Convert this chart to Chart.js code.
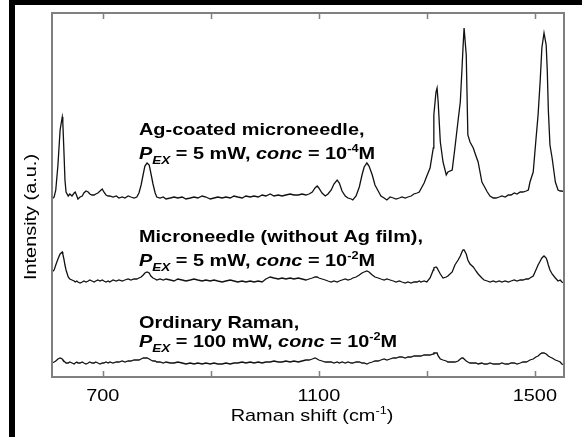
<!DOCTYPE html>
<html><head><meta charset="utf-8">
<script src="https://cdn.jsdelivr.net/npm/chart.js@4/dist/chart.umd.min.js"></script>
<style>
html,body{margin:0;padding:0;background:#fff;}
#wrap{position:relative;width:582px;height:437px;overflow:hidden;}
canvas{position:absolute;left:0;top:0;}
.bar{position:absolute;background:#000;}
</style></head>
<body><div id="wrap"><canvas id="c" width="582" height="437"></canvas>
<div class="bar" style="left:9px;top:0;width:573px;height:5px"></div>
<div class="bar" style="left:9px;top:0;width:6px;height:437px"></div>
</div>
<script>
// Raman shift (cm^-1)
const shift = [
606,610,613,617,621,625,626,628,630,632,
636,639,643,647,649,652,654,658,662,665,
669,673,676,680,684,687,691,695,699,702,
706,710,713,719,725,730,736,741,747,752,
758,763,767,771,775,778,782,786,789,793,
797,800,806,812,817,825,832,839,847,854,
862,869,876,884,891,899,906,913,921,928,
936,943,950,958,965,973,980,988,995,1002,
1010,1017,1025,1032,1039,1047,1054,1062,1069,1076,
1082,1088,1093,1097,1100,1106,1112,1117,1123,1128,
1134,1138,1143,1149,1154,1160,1163,1169,1175,1180,
1184,1189,1193,1199,1204,1210,1215,1221,1226,1232,
1238,1243,1249,1254,1260,1265,1271,1276,1282,1286,
1289,1295,1300,1306,1312,1313,1317,1319,1321,1325,
1330,1336,1339,1347,1352,1358,1362,1365,1367,1369,
1373,1376,1380,1386,1391,1395,1402,1406,1412,1417,
1423,1428,1434,1439,1445,1451,1456,1462,1467,1473,
1478,1484,1488,1491,1497,1502,1506,1510,1513,1517,
1521,1523,1525,1528,1532,1538,1543,1547,1550,1554];
// Ag-coated microneedle (offset trace)
const agCoated = [
178,180,187,212,247,260,255,227,197,185,
181,183,181,184,185,181,178,180,181,184,
186,185,183,182,182,183,184,186,188,185,
182,181,181,180,181,179,180,179,181,180,
179,180,184,192,203,211,214,212,204,193,
184,180,179,180,178,179,180,179,180,178,
179,180,179,181,180,178,179,180,179,180,
179,181,180,179,181,180,181,180,182,181,
183,181,182,181,182,183,182,182,183,182,
183,185,189,191,189,184,181,183,187,193,
197,194,186,181,179,178,177,181,190,202,
210,214,211,202,192,186,181,179,177,180,
179,178,179,180,179,180,181,183,184,185,
188,194,201,209,229,262,285,289,275,235,
215,202,205,207,229,257,275,307,329,349,
322,242,235,229,221,215,195,191,185,181,
179,179,180,181,180,182,182,184,183,185,
185,186,187,195,205,237,262,297,329,344,
332,307,267,232,219,195,187,186,186,185];
// Microneedle without Ag film (offset trace)
const noAgFilm = [
105,107,112,118,123,125,123,118,112,107,
100,98,97,96,95,96,95,94,95,96,
95,96,97,96,95,96,97,96,97,96,
95,96,95,97,96,97,96,97,98,97,
98,98,99,100,102,104,105,104,101,99,
98,97,98,97,98,97,96,98,97,96,
97,98,97,96,97,96,97,96,95,96,
97,96,95,96,95,96,95,96,95,98,
100,99,98,99,98,99,98,99,98,97,
98,99,100,100,99,98,97,96,95,96,
95,96,97,98,97,98,99,100,102,104,
105,106,105,102,100,99,98,97,98,97,
96,95,96,95,94,95,94,95,95,96,
95,96,95,99,107,109,110,109,107,103,
99,100,101,105,112,117,121,125,127,127,
123,117,113,110,106,103,99,97,96,95,
96,95,96,95,96,95,96,97,96,97,
97,98,98,99,101,107,112,116,119,121,
119,116,112,107,103,99,96,97,95,94];
// Ordinary Raman
const ordinary = [
14,15,16,18,19,18,17,16,15,14,
14,15,14,13,14,15,14,14,15,14,
13,14,15,14,14,15,14,13,14,14,
15,14,15,14,15,15,16,15,16,16,
17,17,17,18,19,19,19,18,17,16,
16,15,15,14,15,14,14,15,14,13,
14,13,14,13,14,13,14,13,13,14,
13,14,14,15,14,15,14,15,14,15,
15,16,15,15,16,15,16,15,16,17,
17,18,19,18,17,16,15,15,15,14,
15,14,15,14,15,14,14,15,15,14,
14,13,14,15,16,16,17,18,17,18,
19,19,20,20,19,20,20,21,21,21,
21,22,22,22,23,24,24,24,21,18,
17,16,15,15,15,16,18,19,19,18,
16,15,14,14,14,13,14,13,13,14,
13,13,13,14,13,13,14,14,13,14,
15,15,16,17,18,20,21,23,24,24,
23,22,21,20,19,17,16,15,13,12];
const tickValues = [700, 900, 1100, 1300, 1500];
const tickLabels = ['700', '', '1100', '', '1500'];
const xTitle = 'Raman shift (cm';
const xTitleSup = '-1';
const yTitle = 'Intensity (a.u.)';
const annotations = [
  {lines: [[{t:'Ag-coated microneedle,'}],
    [{t:'P',i:1},{t:'EX',i:1,sub:1},{t:' = 5 mW, '},{t:'conc',i:1},{t:' = 10'},{t:'-4',sup:1},{t:'M'}]], top: 135, gap: 24},
  {lines: [[{t:'Microneedle (without Ag film),'}],
    [{t:'P',i:1},{t:'EX',i:1,sub:1},{t:' = 5 mW, '},{t:'conc',i:1},{t:' = 10'},{t:'-2',sup:1},{t:'M'}]], top: 242, gap: 24},
  {lines: [[{t:'Ordinary Raman,'}],
    [{t:'P',i:1},{t:'EX',i:1,sub:1},{t:' = 100 mW, '},{t:'conc',i:1},{t:' = 10'},{t:'-2',sup:1},{t:'M'}]], top: 328, gap: 19}
];

for (const a of [agCoated, noAgFilm, ordinary]) if (a.length !== shift.length) throw new Error('len ' + a.length + ' vs ' + shift.length);

const FONT = '"Liberation Sans", Arial, sans-serif';
const SX = 1.17;
function drawRich(ctx, x, y, segs, size, bold, sx) {
  ctx.save();
  ctx.translate(x, y);
  ctx.scale(sx, 1);
  let cx = 0;
  for (const s of segs) {
    let fs = size, dy = 0;
    if (s.sub) { fs = size * 0.68; dy = size * 0.28; }
    if (s.sup) { fs = size * 0.64; dy = -size * 0.42; }
    ctx.font = (s.i ? 'italic ' : '') + (bold ? 'bold ' : '') + fs + 'px ' + FONT;
    ctx.fillText(s.t, cx, dy);
    cx += ctx.measureText(s.t).width;
  }
  ctx.restore();
  return cx * sx;
}
function richWidth(ctx, segs, size, bold, sx) {
  let cx = 0;
  for (const s of segs) {
    let fs = size;
    if (s.sub) fs = size * 0.68;
    if (s.sup) fs = size * 0.64;
    ctx.font = (s.i ? 'italic ' : '') + (bold ? 'bold ' : '') + fs + 'px ' + FONT;
    cx += ctx.measureText(s.t).width;
  }
  return cx * sx;
}

const decor = {
  id: 'decor',
  afterDraw(chart) {
    const ctx = chart.ctx, ca = chart.chartArea, xs = chart.scales.x;
    ctx.save();
    ctx.strokeStyle = '#808080';
    ctx.lineWidth = 2;
    ctx.strokeRect(ca.left, ca.top, ca.right - ca.left, ca.bottom - ca.top);
    ctx.lineWidth = 1.5;
    ctx.beginPath();
    tickValues.forEach(v => {
      const px = Math.round(xs.getPixelForValue(v)) + 0.5;
      ctx.moveTo(px, ca.bottom); ctx.lineTo(px, ca.bottom - 6);
      ctx.moveTo(px, ca.top); ctx.lineTo(px, ca.top + 6);
    });
    ctx.stroke();
    ctx.fillStyle = '#000';
    ctx.textBaseline = 'alphabetic';
    tickValues.forEach((v, k) => {
      if (!tickLabels[k]) return;
      const segs = [{t: tickLabels[k]}];
      const w = richWidth(ctx, segs, 17, false, SX);
      drawRich(ctx, xs.getPixelForValue(v) - w / 2, 401, segs, 17, false, SX);
    });
    const tSegs = [{t: xTitle}, {t: xTitleSup, sup: 1}, {t: ')'}];
    const tw = richWidth(ctx, tSegs, 17, false, SX);
    drawRich(ctx, (ca.left + ca.right) / 2 - tw / 2 + 4, 421, tSegs, 17, false, SX);
    // y title
    ctx.save();
    ctx.translate(36, (ca.top + ca.bottom) / 2 + 22);
    ctx.rotate(-Math.PI / 2);
    ctx.scale(SX, 1);
    ctx.font = '17px ' + FONT;
    ctx.textAlign = 'center';
    ctx.fillText(yTitle, 0, 0);
    ctx.restore();
    // annotations
    annotations.forEach(a => {
      drawRich(ctx, 139, a.top, a.lines[0], 17, true, SX);
      drawRich(ctx, 139, a.top + a.gap, a.lines[1], 17, true, SX);
    });
    ctx.restore();
  }
};

const mk = arr => shift.map((s, k) => ({x: s, y: arr[k]}));
new Chart(document.getElementById('c'), {
  type: 'line',
  data: { datasets: [
    {label: 'Ag-coated microneedle', data: mk(agCoated)},
    {label: 'Microneedle (without Ag film)', data: mk(noAgFilm)},
    {label: 'Ordinary Raman', data: mk(ordinary)}
  ].map(d => Object.assign(d, {borderColor: '#111', borderWidth: 1.3, pointRadius: 0, tension: 0, fill: false})) },
  options: {
    responsive: false, animation: false, devicePixelRatio: 1,
    layout: {padding: {left: 52, top: 13, right: 18, bottom: 60}},
    plugins: {legend: {display: false}, tooltip: {enabled: false}},
    scales: {
      x: {type: 'linear', min: 606, max: 1554, display: false},
      y: {min: 0, max: 364, display: false}
    }
  },
  plugins: [decor]
});
</script></body></html>
